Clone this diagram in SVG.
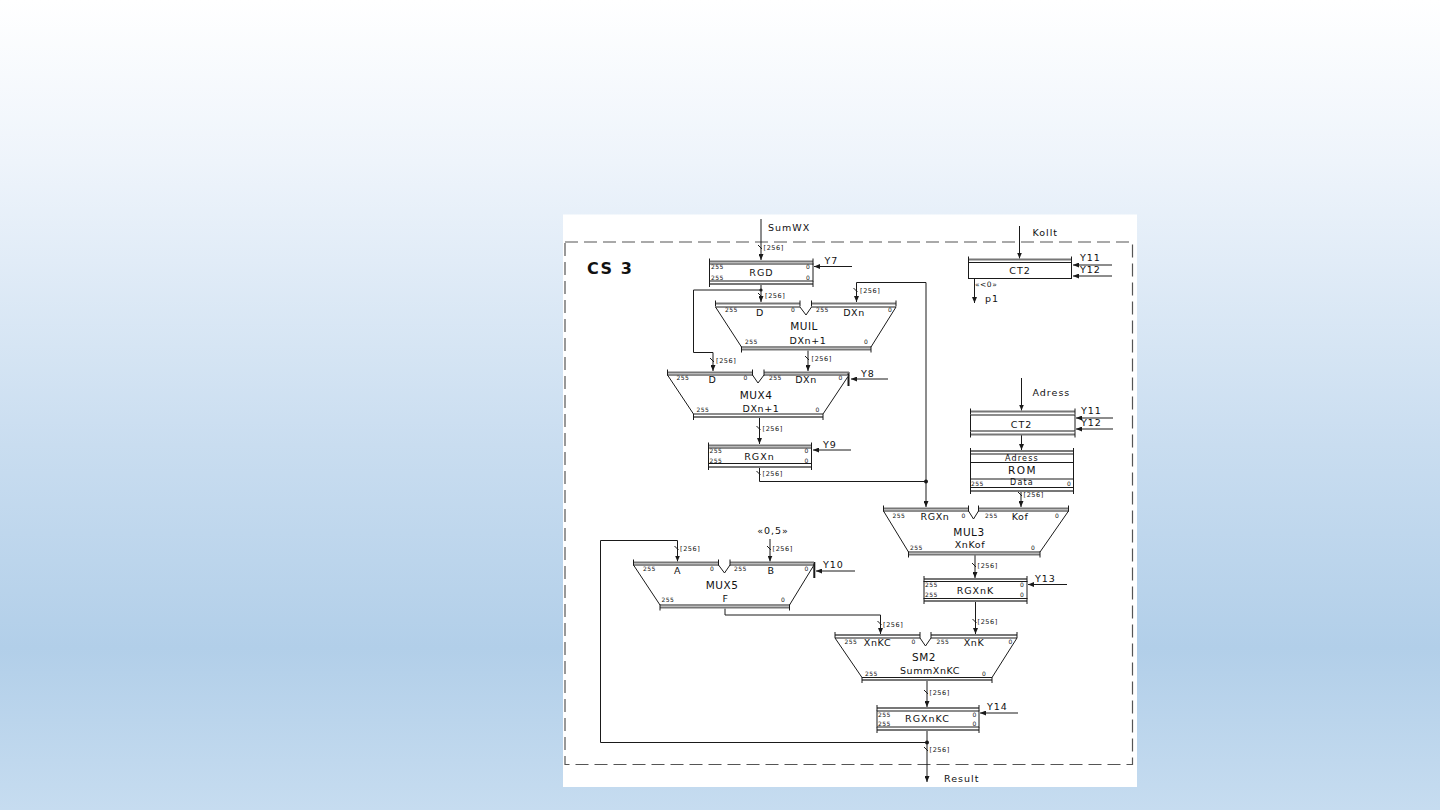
<svg xmlns="http://www.w3.org/2000/svg" width="1440" height="810" viewBox="0 0 1440 810">
<defs>
<linearGradient id="bg" x1="0" y1="0" x2="0" y2="1">
<stop offset="0" stop-color="#ffffff"/>
<stop offset="0.2" stop-color="#eef4fb"/>
<stop offset="0.55" stop-color="#c9ddf0"/>
<stop offset="0.8" stop-color="#b2cfe9"/>
<stop offset="1" stop-color="#c6dcf0"/>
</linearGradient>
<marker id="ah" viewBox="0 0 6 5" refX="6" refY="2.5" markerWidth="6" markerHeight="5" markerUnits="userSpaceOnUse" orient="auto">
<path d="M0,0 L6,2.5 L0,5 Z" fill="#1a1a1a"/>
</marker>
<style>
text{font-family:"DejaVu Sans","Liberation Sans",sans-serif;fill:#111}
.t{font-size:9.5px;letter-spacing:1px}
.n{font-size:10.5px;letter-spacing:0.5px}
.p{font-size:9.5px;letter-spacing:0.6px}
.s{font-size:6px;letter-spacing:0.4px}
.w{font-size:6.5px;letter-spacing:0.6px}
.ln{fill:none;stroke:#1a1a1a;stroke-width:1}
.ar{fill:none;stroke:#1a1a1a;stroke-width:1;marker-end:url(#ah)}
.bus{fill:none;stroke:#777;stroke-width:1.8}
.tk{fill:none;stroke:#1a1a1a;stroke-width:1}
.sh{fill:#fff;stroke:#1a1a1a;stroke-width:1}
.m{text-anchor:middle}
</style>
</defs>
<rect x="0" y="0" width="1440" height="810" fill="url(#bg)"/>
<rect x="563" y="214.5" width="574" height="572.5" fill="#ffffff"/>
<rect x="565" y="242" width="567.5" height="522.5" fill="none" stroke="#555" stroke-width="1.2" stroke-dasharray="13,6"/>
<text x="587" y="274" style="font-family:'DejaVu Sans',sans-serif;font-weight:bold;font-size:16px;letter-spacing:1.5px">CS 3</text>

<g id="connectors">
<path class="ar" d="M761,219 V260"/>
<path class="ar" d="M852,266.5 H814"/>
<path class="ar" d="M761,285 V302"/>
<path class="ar" d="M761,290 H693.5 V352.5 H713 V371"/>
<path class="ar" d="M926,481.5 V282.5 H856.5 V302"/>
<path class="ar" d="M808,350.5 V371"/>
<path class="ar" d="M888,379 H851"/>
<path class="ar" d="M759.5,418 V444"/>
<path class="ar" d="M851,450 H813"/>
<path class="ln" d="M759.5,468 V481.5 H926"/>
<path class="ar" d="M926,481.5 V507"/>
<path class="ar" d="M1019.5,226 V258.5"/>
<path class="ar" d="M1112,265 H1073"/>
<path class="ar" d="M1112,276 H1073"/>
<path class="ar" d="M974.5,279 V303"/>
<path class="ar" d="M1021.5,378 V410.5"/>
<path class="ar" d="M1113,418 H1076"/>
<path class="ar" d="M1113,429 H1076"/>
<path class="ar" d="M1021.5,435 V450"/>
<path class="ar" d="M1021,491.5 V507"/>
<path class="ar" d="M975,555 V578"/>
<path class="ar" d="M1067,584.5 H1028"/>
<path class="ar" d="M975.5,601.5 V634"/>
<path class="ar" d="M770,539 V561.5"/>
<path class="ar" d="M927,742.5 H600.5 V540.5 H677.5 V561.5"/>
<path class="ar" d="M855,571 H816"/>
<path class="ar" d="M725,608.5 V615 H880.5 V634"/>
<path class="ar" d="M1018,713 H980"/>
<path class="ar" d="M927,680.5 V707"/>
<path class="ar" d="M927,730.5 V782"/>
<circle cx="761" cy="290" r="1.6" fill="#1a1a1a"/>
<circle cx="926" cy="481.5" r="2" fill="#1a1a1a"/>
<circle cx="927" cy="742.5" r="2" fill="#1a1a1a"/>
<path d="M848.5,372 V386 M814.3,562 V578" stroke="#1a1a1a" stroke-width="2" fill="none"/>
<path class="ln" d="M758,245 L762,249 M758,293 L762,297 M710,358 L714,362 M853.5,288 L857.5,292 M805,356 L809,360 M756.5,426 L760.5,430 M756.5,471 L760.5,475 M1018,492 L1022,496 M972,563 L976,567 M972.5,619 L976.5,623 M767,546 L771,550 M674.5,546 L678.5,550 M877.5,621 L881.5,625 M924,690 L928,694 M924,747 L928,751"/>
<text class="w" x="763.5" y="249.5">[256]</text>
<text class="w" x="765" y="298">[256]</text>
<text class="w" x="716" y="363">[256]</text>
<text class="w" x="860" y="293">[256]</text>
<text class="w" x="811.5" y="361">[256]</text>
<text class="w" x="762.5" y="431">[256]</text>
<text class="w" x="762.5" y="476">[256]</text>
<text class="w" x="1023.5" y="497">[256]</text>
<text class="w" x="977.5" y="568">[256]</text>
<text class="w" x="977.5" y="624">[256]</text>
<text class="w" x="772.5" y="551">[256]</text>
<text class="w" x="680" y="551">[256]</text>
<text class="w" x="883" y="626.5">[256]</text>
<text class="w" x="929.5" y="695">[256]</text>
<text class="w" x="929.5" y="752">[256]</text>
<text class="t" x="768" y="231">SumWX</text>
<text class="t" x="824.5" y="264">Y7</text>
<text class="t" x="861" y="377">Y8</text>
<text class="t" x="823" y="447.5">Y9</text>
<text class="t" x="1032.5" y="236">Kollt</text>
<text class="t" x="1080" y="261">Y11</text>
<text class="t" x="1080" y="272.5">Y12</text>
<text x="975" y="287" style="font-size:7.5px;letter-spacing:0.5px">«&lt;0»</text>
<text class="t" x="985" y="302">p1</text>
<text class="t" x="1032.5" y="396">Adress</text>
<text class="t" x="1081" y="413.5">Y11</text>
<text class="t" x="1081" y="426">Y12</text>
<text class="t" x="1035" y="582">Y13</text>
<text class="t m" x="773" y="534">«0,5»</text>
<text class="t" x="823" y="568">Y10</text>
<text class="t" x="987" y="710">Y14</text>
<text class="t" x="944" y="782">Result</text>
</g>

<g id="RGD">
<rect class="sh" x="709.5" y="264" width="103.5" height="17"/>
<path class="bus" d="M709.5,261.5 H813 M709.5,284 H813"/>
<path class="tk" d="M709.5,258.5 V264.5 M813,258.5 V264.5 M709.5,281 V287 M813,281 V287"/>
<text class="s" x="711" y="269">255</text><text class="s" x="806" y="269">0</text>
<text class="s" x="711" y="279.5">255</text><text class="s" x="806" y="279.5">0</text>
<text class="t m" x="761.5" y="276">RGD</text>
</g>

<g id="MUIL">
<path class="sh" d="M715.5,307 H800 L806,315 L811.5,307 H896 L871,347 H741.5 Z"/>
<path class="bus" d="M715.5,303.5 H800 M811.5,303.5 H896 M741.5,349.5 H871"/>
<path class="tk" d="M715.5,300.5 V306.5 M800,300.5 V306.5 M811.5,300.5 V306.5 M896,300.5 V306.5 M741.5,346.5 V352.5 M871,346.5 V352.5"/>
<text class="s" x="725" y="311.5">255</text><text class="s" x="791" y="311.5">0</text>
<text class="s" x="816" y="311.5">255</text><text class="s" x="888" y="311.5">0</text>
<text class="p m" x="760" y="316">D</text><text class="p m" x="854" y="316">DXn</text>
<text class="n m" x="804" y="330">MUIL</text>
<text class="p m" x="808" y="344">DXn+1</text>
<text class="s" x="745" y="344">255</text><text class="s" x="864" y="344">0</text>
</g>

<g id="MUX4">
<path class="sh" d="M667.5,375 H752.5 L758,383 L764,375 H849 L823,414 H693.5 Z"/>
<path class="bus" d="M667.5,372.5 H752.5 M764,372.5 H849 M693.5,417 H823"/>
<path class="tk" d="M667.5,369.5 V375.5 M752.5,369.5 V375.5 M764,369.5 V375.5 M693.5,414 V420 M823,414 V420"/>
<text class="s" x="676.5" y="380">255</text><text class="s" x="743.5" y="380">0</text>
<text class="s" x="769" y="380">255</text><text class="s" x="838.5" y="380">0</text>
<text class="p m" x="712.5" y="383">D</text><text class="p m" x="806" y="383">DXn</text>
<text class="n m" x="756" y="398.5">MUX4</text>
<text class="p m" x="761" y="411.5">DXn+1</text>
<text class="s" x="696.5" y="412">255</text><text class="s" x="815.5" y="412">0</text>
</g>

<g id="RGXn">
<rect class="sh" x="708.5" y="448" width="103" height="15.5"/>
<path class="bus" d="M708.5,445.5 H811.5 M708.5,467 H811.5"/>
<path class="tk" d="M708.5,442.5 V448.5 M811.5,442.5 V448.5 M708.5,464 V470 M811.5,464 V470"/>
<text class="s" x="709.5" y="453">255</text><text class="s" x="804.5" y="453">0</text>
<text class="s" x="709.5" y="462.5">255</text><text class="s" x="804.5" y="462.5">0</text>
<text class="t m" x="759.5" y="460">RGXn</text>
</g>

<g id="CT2a">
<rect class="sh" x="968.5" y="262.5" width="103" height="16"/>
<path class="bus" d="M968.5,259.5 H1071.5"/>
<path class="tk" d="M968.5,256.5 V262.5 M1071.5,256.5 V262.5"/>
<text class="t m" x="1020" y="273.5">CT2</text>
</g>

<g id="CT2b">
<rect class="sh" x="970.5" y="415" width="104.5" height="16"/>
<path class="bus" d="M970.5,411.5 H1075 M970.5,434.5 H1075"/>
<path class="tk" d="M970.5,408.5 V414.5 M1075,408.5 V414.5 M970.5,431.5 V437.5 M1075,431.5 V437.5"/>
<text class="t m" x="1021.5" y="428">CT2</text>
</g>

<g id="ROM">
<rect class="sh" x="970.5" y="454" width="103" height="33.5"/>
<path class="ln" d="M970.5,462.5 H1073.5 M970.5,479 H1073.5"/>
<path class="bus" d="M970.5,451 H1073.5 M970.5,491 H1073.5"/>
<path class="tk" d="M970.5,448 V454 M1073.5,448 V454 M970.5,488 V494 M1073.5,488 V494"/>
<text class="m" x="1022" y="460.8" style="font-size:8px;letter-spacing:1.2px">Adress</text>
<text class="m" x="1022.5" y="474" style="font-size:10.5px;letter-spacing:1.5px">ROM</text>
<text class="m" x="1022" y="484.8" style="font-size:8px;letter-spacing:1.2px">Data</text>
<text class="s" x="971" y="485.5">255</text><text class="s" x="1067" y="485.5">0</text>
</g>

<g id="MUL3">
<path class="sh" d="M883.5,511 H968.5 L973.5,519 L978.5,511 H1068.5 L1040,552 H908.5 Z"/>
<path class="bus" d="M883.5,508.5 H968.5 M978.5,508.5 H1068.5 M908.5,554.5 H1040"/>
<path class="tk" d="M883.5,505.5 V511.5 M968.5,505.5 V511.5 M978.5,505.5 V511.5 M1068.5,505.5 V511.5 M908.5,551.5 V557.5 M1040,551.5 V557.5"/>
<text class="s" x="892.5" y="517.5">255</text><text class="s" x="961.5" y="517.5">0</text>
<text class="s" x="985" y="517.5">255</text><text class="s" x="1055" y="517.5">0</text>
<text class="p m" x="935" y="520">RGXn</text><text class="p m" x="1020" y="520">Kof</text>
<text class="n m" x="969" y="536">MUL3</text>
<text class="p m" x="970" y="547.5">XnKof</text>
<text class="s" x="910" y="549.5">255</text><text class="s" x="1031" y="549.5">0</text>
</g>

<g id="RGXnK">
<rect class="sh" x="924" y="581.5" width="103" height="17"/>
<path class="bus" d="M924,579 H1027 M924,601 H1027"/>
<path class="tk" d="M924,576 V582 M1027,576 V582 M924,598 V604 M1027,598 V604"/>
<text class="s" x="925" y="587">255</text><text class="s" x="1020" y="587">0</text>
<text class="s" x="925" y="597">255</text><text class="s" x="1020" y="597">0</text>
<text class="t m" x="975.5" y="594">RGXnK</text>
</g>

<g id="MUX5">
<path class="sh" d="M633.5,565 H718.5 L724.5,573 L730,565 H814 L789.5,605 H660 Z"/>
<path class="bus" d="M633.5,562.5 H718.5 M730,562.5 H814 M660,607.5 H789.5"/>
<path class="tk" d="M633.5,559.5 V565.5 M718.5,559.5 V565.5 M730,559.5 V565.5 M660,604.5 V610.5 M789.5,604.5 V610.5"/>
<text class="s" x="643" y="570.5">255</text><text class="s" x="710" y="570.5">0</text>
<text class="s" x="734" y="570.5">255</text><text class="s" x="804.5" y="570.5">0</text>
<text class="p m" x="677.5" y="574">A</text><text class="p m" x="771" y="574">B</text>
<text class="n m" x="722" y="589">MUX5</text>
<text class="p m" x="725.5" y="602">F</text>
<text class="s" x="661.5" y="602">255</text><text class="s" x="781" y="602">0</text>
</g>

<g id="SM2">
<path class="sh" d="M835,638 H920 L925.5,646 L931,638 H1017 L992,677.5 H862 Z"/>
<path class="bus" d="M835,635 H920 M931,635 H1017 M862,680 H992"/>
<path class="tk" d="M835,632 V638 M920,632 V638 M931,632 V638 M1017,632 V638 M862,677 V683 M992,677 V683"/>
<text class="s" x="844.5" y="643.5">255</text><text class="s" x="911.5" y="643.5">0</text>
<text class="s" x="936.5" y="643.5">255</text><text class="s" x="1008.5" y="643.5">0</text>
<text class="p m" x="877.5" y="646">XnKC</text><text class="p m" x="974" y="646">XnK</text>
<text class="n m" x="924" y="661">SM2</text>
<text class="p m" x="930" y="674">SummXnKC</text>
<text class="s" x="865" y="676">255</text><text class="s" x="982" y="676">0</text>
</g>

<g id="RGXnKC">
<rect class="sh" x="877" y="711" width="102" height="16"/>
<path class="bus" d="M877,708 H979 M877,730 H979"/>
<path class="tk" d="M877,705 V711 M979,705 V711 M877,727 V733 M979,727 V733"/>
<text class="s" x="878" y="716.5">255</text><text class="s" x="972.5" y="716.5">0</text>
<text class="s" x="878" y="725.5">255</text><text class="s" x="972.5" y="725.5">0</text>
<text class="t m" x="927.5" y="722">RGXnKC</text>
</g>
</svg>
